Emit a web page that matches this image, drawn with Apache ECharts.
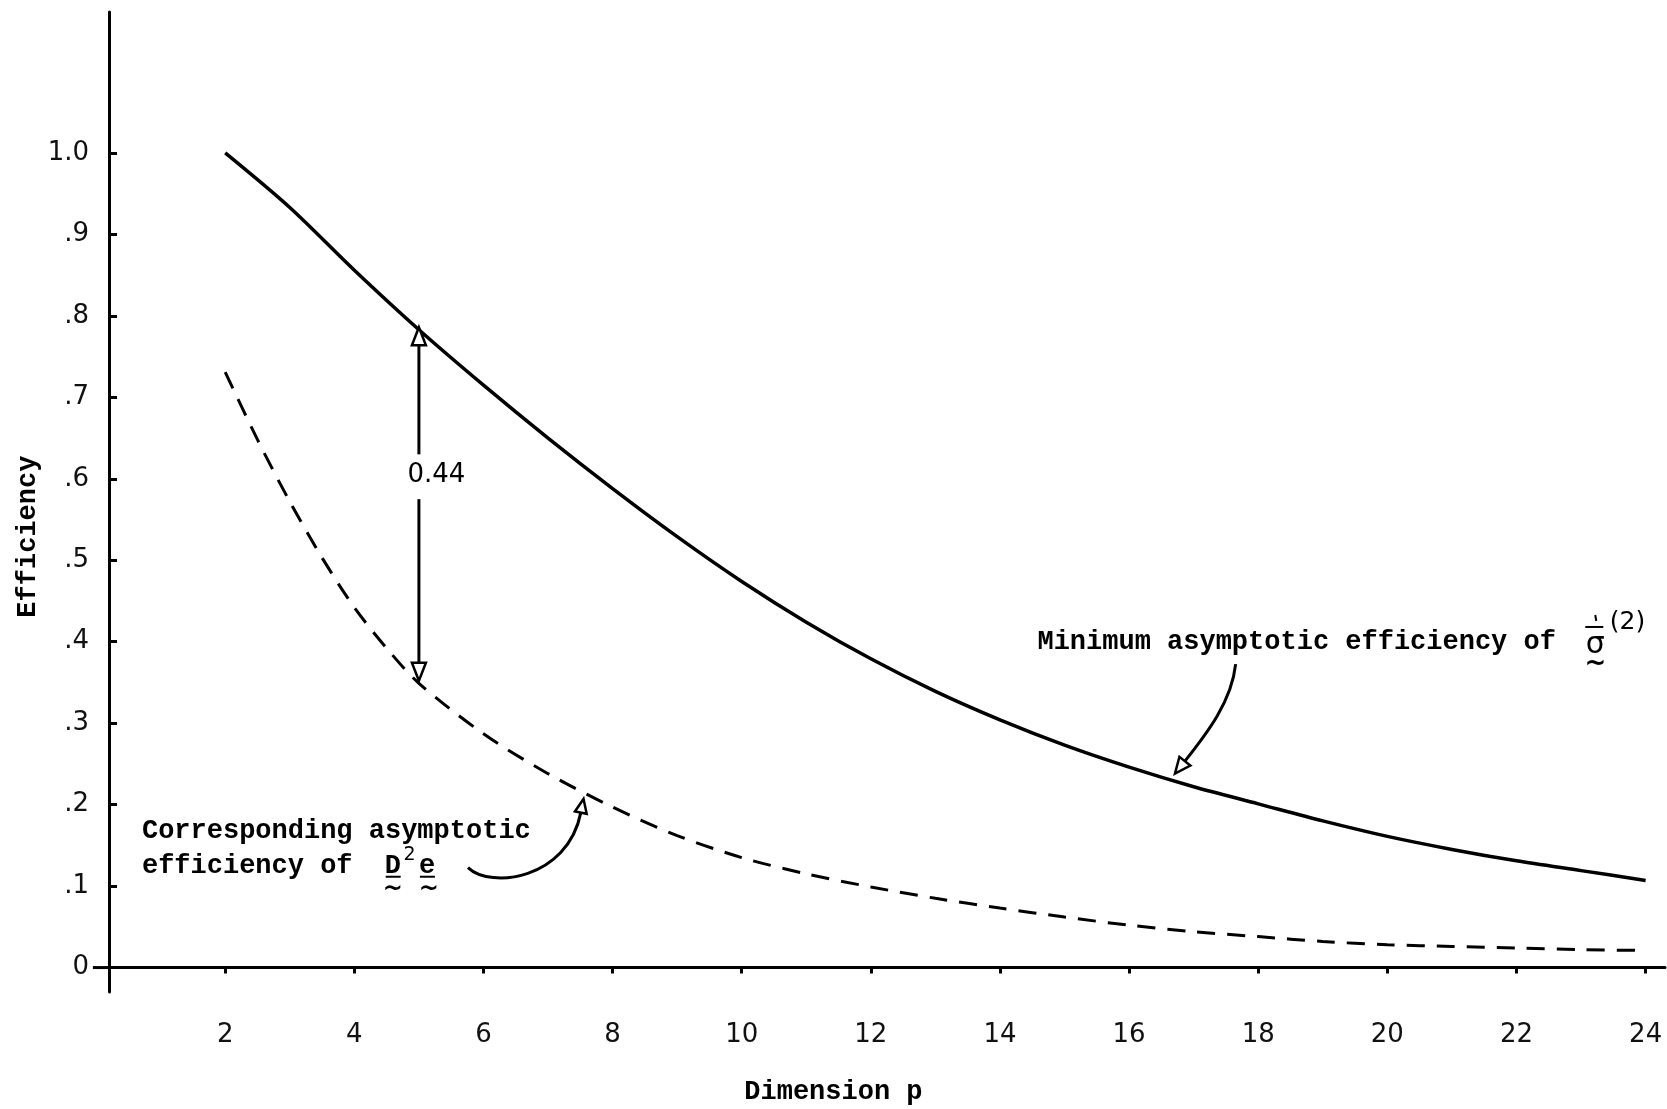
<!DOCTYPE html>
<html>
<head>
<meta charset="utf-8">
<script src="https://cdn.jsdelivr.net/npm/echarts@6/dist/echarts.min.js"></script>
<style>
html,body{margin:0;padding:0;background:#fff;}
#chart{width:1667px;height:1109px;}
</style>
</head>
<body>
<div id="chart"></div>
<script>
// ---- data ----
const solidP = [2,3,4,5,6,7,8,9,10,11,12,13,14,15,16,17,18,19,20,21,22,23,24];
const minEfficiency = [1.0,0.933,0.856,0.783,0.715,0.650,0.588,0.529,0.474,0.424,0.379,0.339,0.304,0.273,0.246,0.222,0.201,0.180,0.161,0.145,0.131,0.119,0.107];
const dashedP = [2,2.5,3,3.5,4,4.5,5,6,7,8,9,10,11,12,13,14,15,16,17,18,19,20,21,22,23,24];
const d2eEfficiency = [0.731,0.648,0.572,0.503,0.442,0.392,0.349,0.287,0.238,0.197,0.162,0.135,0.115,0.099,0.085,0.073,0.062,0.052,0.044,0.038,0.032,0.028,0.026,0.024,0.022,0.021];
const xTicks = [2,4,6,8,10,12,14,16,18,20,22,24];
const yTicks = [0,0.1,0.2,0.3,0.4,0.5,0.6,0.7,0.8,0.9,1.0];
const yTickLabels = ['0','.1','.2','.3','.4','.5','.6','.7','.8','.9','1.0'];
const gapLabel = '0.44';
const gapP = 5;
const gapTop = 0.786, gapBottom = 0.352;
const labelMin = 'Minimum asymptotic efficiency of';
const labelCorr1 = 'Corresponding asymptotic';
const labelCorr2 = 'efficiency of';
const xTitle = 'Dimension p';
const yTitle = 'Efficiency';

const MONO = 'bold 27px "Liberation Mono", "DejaVu Sans Mono", monospace';

function arrowHead(tip, from, L, W) {
  const dx = tip[0]-from[0], dy = tip[1]-from[1];
  const len = Math.hypot(dx, dy);
  const ux = dx/len, uy = dy/len;
  const bx = tip[0]-ux*L, by = tip[1]-uy*L;
  const nx = -uy, ny = ux;
  return {
    base: [bx, by],
    el: {type:'polygon', shape:{points:[tip,[bx+nx*W,by+ny*W],[bx-nx*W,by-ny*W]]},
         style:{fill:'#fff', stroke:'#000', lineWidth:2.5}}
  };
}

function renderAnnotations(params, api) {
  const c = (x, y) => api.coord([x, y]);
  const ch = [];
  const lineStyle = {stroke:'#000', lineWidth:3, fill:null};
  // x-axis stub left of the y-axis
  ch.push({type:'line', shape:{x1:c(-0.05,0)[0], y1:c(-0.05,0)[1], x2:c(0.2,0)[0], y2:c(0.2,0)[1]}, style:{stroke:'#000', lineWidth:3}});
  // vertical double arrow at p = 5
  const tTop = c(gapP, gapTop), sTop = c(gapP, 0.63);
  const hTop = arrowHead(tTop, sTop, 18, 7);
  ch.push({type:'line', shape:{x1:sTop[0], y1:sTop[1], x2:hTop.base[0], y2:hTop.base[1]}, style:{stroke:'#000', lineWidth:3}});
  ch.push(hTop.el);
  const tBot = c(gapP, gapBottom), sBot = c(gapP, 0.575);
  const hBot = arrowHead(tBot, sBot, 18, 7);
  ch.push({type:'line', shape:{x1:sBot[0], y1:sBot[1], x2:hBot.base[0], y2:hBot.base[1]}, style:{stroke:'#000', lineWidth:3}});
  ch.push(hBot.el);
  const gl = c(5.27, 0.604);
  ch.push({type:'text', style:{text:gapLabel, x:gl[0], y:gl[1], align:'center', verticalAlign:'middle', font:'26px "DejaVu Sans", sans-serif', fill:'#000'}});

  // curved arrow to the solid curve
  const m0 = c(17.65,0.3725), m1 = c(17.59,0.327), m2 = c(17.21,0.288), m3 = c(16.71,0.238);
  const mh = arrowHead(m3, m2, 16, 7);
  ch.push({type:'bezierCurve', shape:{x1:m0[0],y1:m0[1],cpx1:m1[0],cpy1:m1[1],cpx2:m2[0],cpy2:m2[1],x2:mh.base[0],y2:mh.base[1]}, style:lineStyle});
  ch.push(mh.el);

  // curved arrow to the dashed curve
  const d0 = c(5.76,0.1227), d1 = c(6.11,0.096), d2 = c(7.3,0.108), d3 = c(7.55,0.207);
  const dh = arrowHead(d3, d2, 14, 6);
  ch.push({type:'bezierCurve', shape:{x1:d0[0],y1:d0[1],cpx1:d1[0],cpy1:d1[1],cpx2:d2[0],cpy2:d2[1],x2:dh.base[0],y2:dh.base[1]}, style:lineStyle});
  ch.push(dh.el);

  // annotation texts
  const tm = c(14.58, 0.399);
  ch.push({type:'text', style:{text:labelMin, x:tm[0], y:tm[1], align:'left', verticalAlign:'middle', font:MONO, fill:'#000'}});
  const sg = c(23.22, 0.396);
  ch.push({type:'text', style:{text:'σ', x:sg[0], y:sg[1], align:'center', verticalAlign:'middle', font:'30px "DejaVu Sans", sans-serif', fill:'#000'}});
  ch.push({type:'line', shape:{x1:sg[0]-10, y1:sg[1]-18, x2:sg[0]+8, y2:sg[1]-18}, style:{stroke:'#000', lineWidth:2}});
  ch.push({type:'line', shape:{x1:sg[0], y1:sg[1]-30, x2:sg[0]+1, y2:sg[1]-24}, style:{stroke:'#000', lineWidth:2}});
  ch.push({type:'text', style:{text:'~', x:sg[0], y:sg[1]+19, align:'center', verticalAlign:'middle', font:'bold 26px "DejaVu Sans", sans-serif', fill:'#000'}});
  const s2 = c(23.72, 0.423);
  ch.push({type:'text', style:{text:'(2)', x:s2[0], y:s2[1], align:'center', verticalAlign:'middle', font:'25px "DejaVu Sans", sans-serif', fill:'#000'}});

  const t1 = c(0.71, 0.167), t2 = c(0.71, 0.125);
  ch.push({type:'text', style:{text:labelCorr1, x:t1[0], y:t1[1], align:'left', verticalAlign:'middle', font:MONO, fill:'#000'}});
  ch.push({type:'text', style:{text:labelCorr2, x:t2[0], y:t2[1], align:'left', verticalAlign:'middle', font:MONO, fill:'#000'}});
  const dD = c(4.47, 0.125), de = c(5.0, 0.125), dSup = c(4.76, 0.138);
  ch.push({type:'text', style:{text:'D', x:dD[0], y:dD[1], align:'left', verticalAlign:'middle', font:MONO, fill:'#000'}});
  ch.push({type:'text', style:{text:'2', x:dSup[0], y:dSup[1], align:'left', verticalAlign:'middle', font:'19px "DejaVu Sans", sans-serif', fill:'#000'}});
  ch.push({type:'text', style:{text:'e', x:de[0], y:de[1], align:'left', verticalAlign:'middle', font:MONO, fill:'#000'}});
  ch.push({type:'line', shape:{x1:dD[0]+1, y1:dD[1]+11, x2:dD[0]+16, y2:dD[1]+11}, style:{stroke:'#000', lineWidth:2}});
  ch.push({type:'line', shape:{x1:de[0]+1, y1:de[1]+11, x2:de[0]+16, y2:de[1]+11}, style:{stroke:'#000', lineWidth:2}});
  ch.push({type:'text', style:{text:'~', x:dD[0]+8, y:dD[1]+24, align:'center', verticalAlign:'middle', font:'bold 24px "DejaVu Sans", sans-serif', fill:'#000'}});
  ch.push({type:'text', style:{text:'~', x:de[0]+10, y:de[1]+24, align:'center', verticalAlign:'middle', font:'bold 24px "DejaVu Sans", sans-serif', fill:'#000'}});

  // axis titles
  const xt = c(11.42, -0.153);
  ch.push({type:'text', style:{text:xTitle, x:xt[0], y:xt[1], align:'center', verticalAlign:'middle', font:MONO, fill:'#000'}});
  const yt = c(-1.05, 0.529);
  ch.push({type:'text', x:yt[0], y:yt[1], rotation:Math.PI/2, style:{text:yTitle, x:0, y:0, align:'center', verticalAlign:'middle', font:MONO, fill:'#000'}});
  return {type:'group', children:ch};
}

const chart = echarts.init(document.getElementById('chart'), null, {renderer:'canvas'});
chart.setOption({
  backgroundColor:'#fff',
  animation:false,
  grid:{left:109, right:2, top:12, bottom:117, containLabel:false},
  xAxis:{
    type:'value', min:0.2, max:24.3,
    splitLine:{show:false},
    axisLine:{onZero:true, lineStyle:{color:'#000', width:3}},
    axisTick:{show:true, customValues:xTicks, length:6, inside:false, lineStyle:{color:'#000', width:3}},
    axisLabel:{customValues:xTicks, margin:30, color:'#111', fontFamily:'DejaVu Sans', fontSize:26}
  },
  yAxis:{
    type:'value', min:-0.03, max:1.173,
    splitLine:{show:false},
    axisLine:{show:true, onZero:false, lineStyle:{color:'#000', width:3}},
    axisTick:{show:true, customValues:yTicks, length:8, inside:true, lineStyle:{color:'#000', width:3}},
    axisLabel:{customValues:yTicks, margin:20, color:'#111', fontFamily:'DejaVu Sans', fontSize:26,
      formatter:function(v){ const i = yTicks.findIndex(t => Math.abs(t - v) < 1e-6); return i >= 0 ? yTickLabels[i] : ''; }}
  },
  series:[
    {type:'line', name:'min', data:solidP.map((p,i)=>[p, minEfficiency[i]]), smooth:0.3, symbol:'none',
     lineStyle:{color:'#000', width:3.5}},
    {type:'line', name:'d2e', data:dashedP.map((p,i)=>[p, d2eEfficiency[i]]), smooth:0.3, symbol:'none',
     lineStyle:{color:'#000', width:3, type:[18,12]}},
    {type:'custom', coordinateSystem:'cartesian2d', clip:false, silent:true, data:[[5,0.5]], renderItem:renderAnnotations, z:5}
  ]
});
</script>
</body>
</html>
